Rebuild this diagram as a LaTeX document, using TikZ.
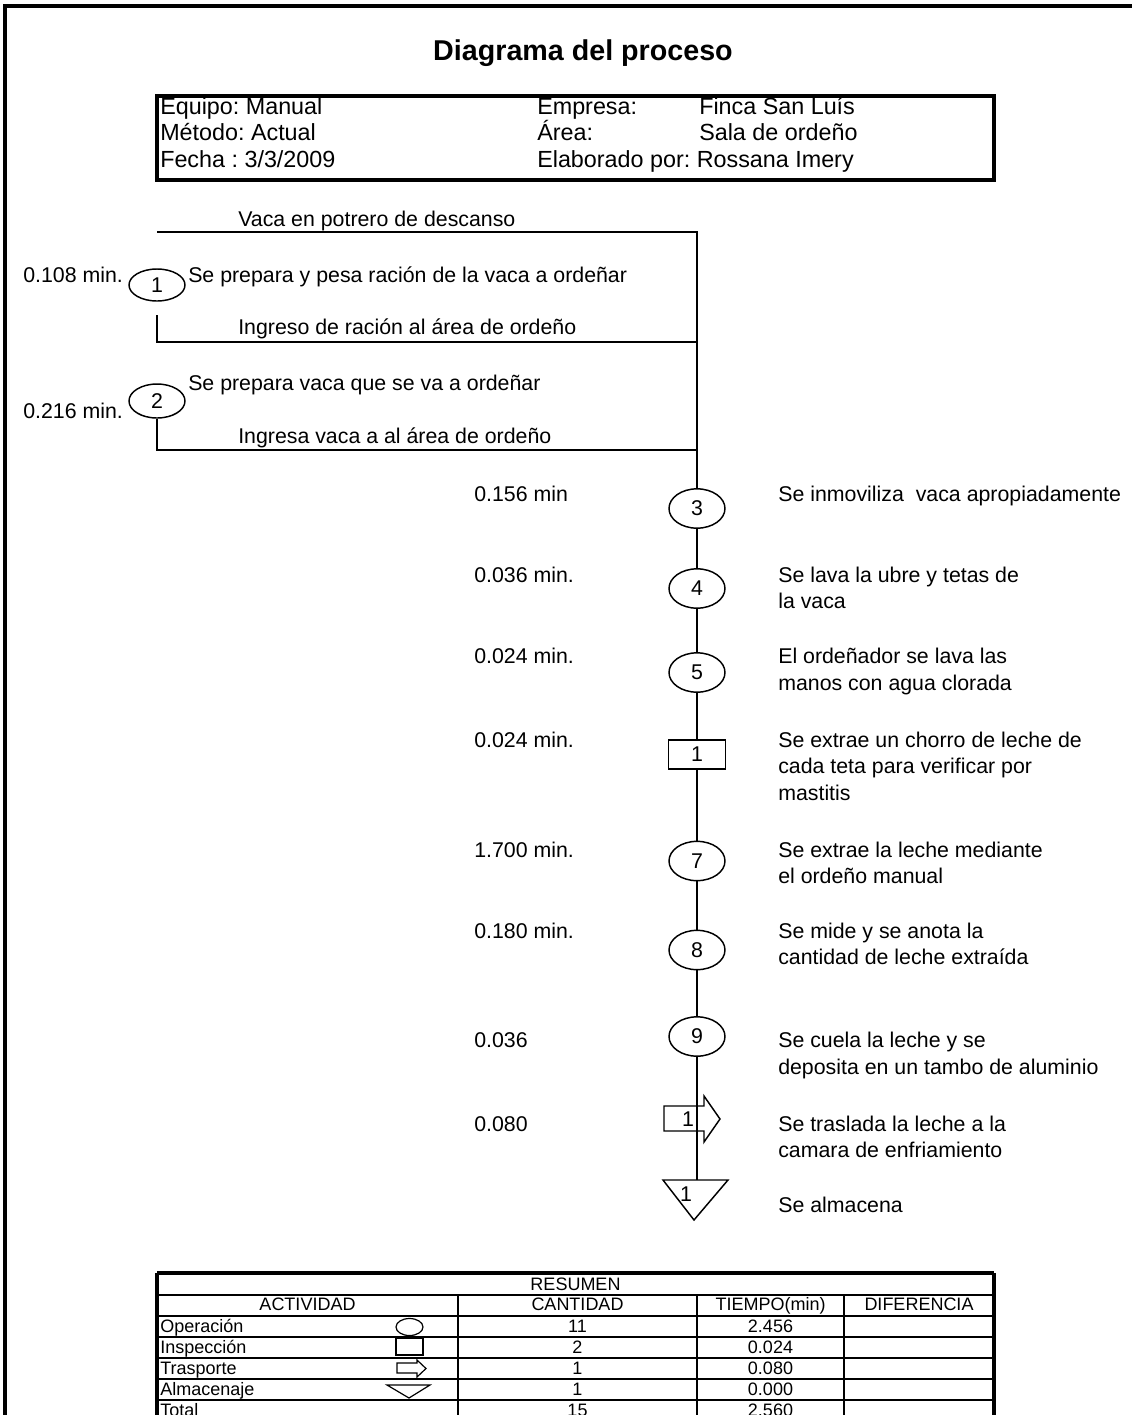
\documentclass[tikz,border=0pt]{standalone}
\usepackage{fontspec}
\setmainfont{Liberation Sans}
\usetikzlibrary{shapes.geometric}
\frenchspacing

\newcommand\fTitle{\fontsize{21.5}{25}\selectfont\bfseries}
\newcommand\fHead{\fontsize{17.5}{21}\selectfont}
\newcommand\fBody{\fontsize{16}{19}\selectfont}
\newcommand\fTab{\fontsize{13.5}{16}\selectfont}

\tikzset{
  frameline/.style={line width=2.4pt},
  flow/.style={line width=2.2pt},
  boxline/.style={line width=2.3pt},
  gridline/.style={line width=2pt},
  sym/.style={draw, line width=1.1pt, inner sep=0pt, font=\fBody},
  opL/.style={sym, ellipse, minimum width=42pt, minimum height=24pt},
  opM/.style={sym, ellipse, minimum width=42pt, minimum height=29.5pt},
  insp/.style={sym, rectangle, minimum width=42.5pt, minimum height=21.75pt},
  lbl/.style={font=\fBody, anchor=base west, inner sep=0pt},
  hd/.style={font=\fHead, anchor=base west, inner sep=0pt},
  tl/.style={font=\fTab, anchor=base west, inner sep=0pt},
  tc/.style={font=\fTab, anchor=base, inner sep=0pt},
  tsym/.style={line width=0.9pt},
}

\begin{document}
\begin{tikzpicture}[x=0.75pt, y=-0.75pt]
\useasboundingbox (0,0) rectangle (1132,1415);

% page frame (top and left edges)
\draw[frameline] (1132,6) -- (5,6) -- (5,1420);

% title and heading block
\node[font=\fTitle, anchor=base, inner sep=0pt] (title) at (583,60) {Diagrama del proceso};
\draw[boxline] (157,96) rectangle (994,180);
\node[hd] (eq)  at (160,114)   {Equipo: Manual};
\node[hd] (emp) at (537,114)   {Empresa:};
\node[hd] (fin) at (699,114)   {Finca San Luís};
\node[hd] (met) at (160,140.5) {Método: Actual};
\node[hd] (are) at (537,140.5) {Área:};
\node[hd] (sal) at (699,140.5) {Sala de ordeño};
\node[hd] (fec) at (160,167)   {Fecha : 3/3/2009};
\node[hd] (ela) at (537,167)   {Elaborado por: Rossana Imery};

% feeder branches on the left
\coordinate (h0) at (157,232);
\coordinate (v0) at (697,232);
\node[lbl] (tvaca) at (238,226) {Vaca en potrero de descanso};

\node[opL] (c1) at (157,285) {\raisebox{-3pt}{1}};
\node[lbl] (t1a) at (23,282)  {0.108 min.};
\node[lbl] (t1b) at (188,282) {Se prepara y pesa ración de la vaca a ordeñar};
\coordinate (s1) at (157,315);
\coordinate (j1) at (157,342);
\coordinate (m1) at (697,342);
\node[lbl] (t1c) at (238,334) {Ingreso de ración al área de ordeño};

\node[opL, minimum height=25.5pt] (c2) at (157,401) {2};
\node[lbl] (t2a) at (188,390) {Se prepara vaca que se va a ordeñar};
\node[lbl] (t2b) at (23,418)  {0.216 min.};
\coordinate (j2) at (157,450);
\coordinate (m2) at (697,450);
\node[lbl] (t2c) at (238,443) {Ingresa vaca a al área de ordeño};

% main column of activities
\node[opM] (c3) at (697,508.5) {3};
\node[lbl] at (474,501) {0.156 min};
\node[lbl] at (778,501) {Se inmoviliza~ vaca apropiadamente};

\node[opM] (c4) at (697,588.5) {4};
\node[lbl] at (474,582) {0.036 min.};
\node[lbl] at (778,582) {Se lava la ubre y tetas de};
\node[lbl] at (778,608) {la vaca};

\node[opM] (c5) at (697,672.5) {5};
\node[lbl] at (474,663) {0.024 min.};
\node[lbl] at (778,663) {El ordeñador se lava las};
\node[lbl] at (778,690) {manos con agua clorada};

\node[insp] (r6) at (697,754.5) {1};
\node[lbl] at (474,747) {0.024 min.};
\node[lbl] at (778,747) {Se extrae un chorro de leche de};
\node[lbl] at (778,773) {cada teta para verificar por};
\node[lbl] at (778,800) {mastitis};

\node[opM] (c7) at (697,861) {7};
\node[lbl] at (474,857) {1.700 min.};
\node[lbl] at (778,857) {Se extrae la leche mediante};
\node[lbl] at (778,883) {el ordeño manual};

\node[opM] (c8) at (697,950) {8};
\node[lbl] at (474,938) {0.180 min.};
\node[lbl] at (778,938) {Se mide y se anota la};
\node[lbl] at (778,964) {cantidad de leche extraída};

\node[opM] (c9) at (697,1036.5) {9};
\node[lbl] at (474,1047) {0.036};
\node[lbl] at (778,1047) {Se cuela la leche y se};
\node[lbl] at (778,1074) {deposita en un tambo de aluminio};

% transport arrow
\draw[sym] (664,1106) -- (704,1106) -- (704,1096) -- (720,1119) -- (704,1142)
  -- (704,1131) -- (664,1131) -- cycle;
\node[font=\fBody, inner sep=0pt] (tr) at (688,1119) {1};
\node[lbl] at (474,1131) {0.080};
\node[lbl] at (778,1131) {Se traslada la leche a la};
\node[lbl] at (778,1157) {camara de enfriamiento};

% storage triangle
\coordinate (st) at (697,1180);
\draw[sym] (663,1180) -- (728,1180) -- (694,1220) -- cycle;
\node[font=\fBody, inner sep=0pt] (stl) at (686,1194) {1};
\node[lbl] at (778,1212) {Se almacena};

% connecting lines
\draw[flow] (h0) -- (v0) -- (c3);
\draw[flow] (s1) -- (j1) -- (m1);
\draw[flow] (c2) -- (j2) -- (m2);
\draw[flow] (c3) -- (c4);
\draw[flow] (c4) -- (c5);
\draw[flow] (c5) -- (r6);
\draw[flow] (r6) -- (c7);
\draw[flow] (c7) -- (c8);
\draw[flow] (c8) -- (c9);
\draw[flow] (c9) -- (st);

% summary table
\draw[boxline] (157,1273) -- (994,1273);
\draw[boxline] (157,1273) -- (157,1425);
\draw[boxline] (994,1273) -- (994,1425);
\foreach \yy in {1295,1316,1337,1358,1379,1400}
  \draw[gridline] (157,\yy) -- (994,\yy);
\foreach \xx in {458,697,844}
  \draw[gridline] (\xx,1295) -- (\xx,1425);

\node[tc] (res) at (575.5,1290) {RESUMEN};
\node[tc] (hact) at (307.5,1310) {ACTIVIDAD};
\node[tc] (hcan) at (577.5,1310) {CANTIDAD};
\node[tc] (htie) at (770.5,1310) {TIEMPO(min)};
\node[tc] (hdif) at (919,1310)   {DIFERENCIA};

\node[tl] (rop) at (160,1332) {Operación};
\node[tl] (rin) at (160,1353) {Inspección};
\node[tl] (rtr) at (160,1374) {Trasporte};
\node[tl] (ral) at (160,1395) {Almacenaje};
\node[tl] (rto) at (160,1416) {Total};

\node[tc] at (577.5,1332) {11};   \node[tc] at (770.5,1332) {2.456};
\node[tc] at (577.5,1353) {2};    \node[tc] at (770.5,1353) {0.024};
\node[tc] at (577.5,1374) {1};    \node[tc] at (770.5,1374) {0.080};
\node[tc] at (577.5,1395) {1};    \node[tc] at (770.5,1395) {0.000};
\node[tc] at (577.5,1416) {15};   \node[tc] at (770.5,1416) {2.560};

% activity symbols in the summary
\draw[tsym] (409.5,1327) ellipse [x radius=13.5, y radius=8.5];
\draw[tsym] (396,1338) rectangle (423,1355);
\draw[tsym] (397,1363) -- (417,1363) -- (417,1360) -- (426,1368.5) -- (417,1377)
  -- (417,1373) -- (397,1373) -- cycle;
\draw[tsym] (387,1385) -- (430,1385) -- (409,1398) -- cycle;
\end{tikzpicture}
\end{document}
